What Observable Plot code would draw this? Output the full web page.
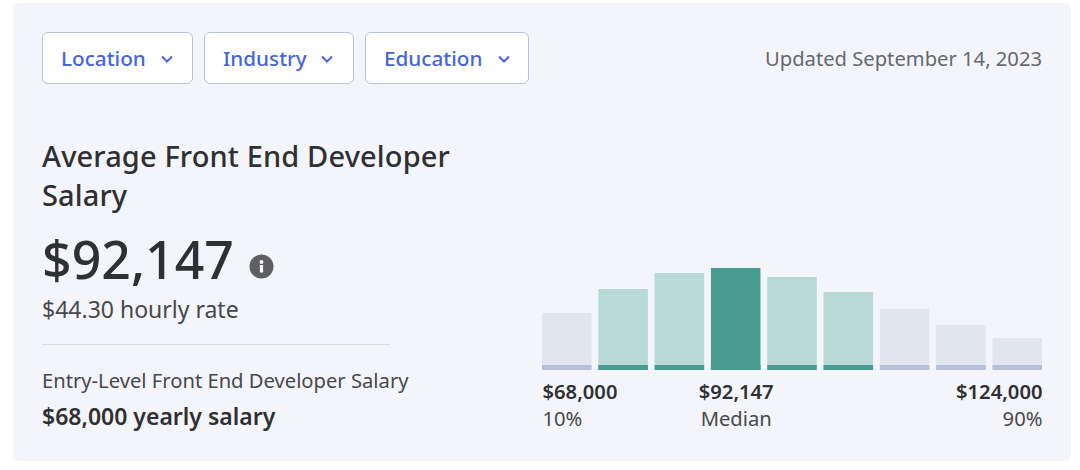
<!DOCTYPE html>
<html><head><meta charset="utf-8">
<script src="https://cdn.jsdelivr.net/npm/d3@7"></script>
<script src="https://cdn.jsdelivr.net/npm/@observablehq/plot@0.6"></script>
<style>
html,body{margin:0;padding:0;background:#fff;overflow:hidden}
body{width:1080px;height:470px;position:relative;font-family:"Noto Sans",sans-serif;color:#2f3033}
#card{position:absolute;left:13px;top:3px;width:1058px;height:458px;background:#f4f5fa;border-radius:7px}
.t{position:absolute;white-space:nowrap}
.btn{position:absolute;top:32px;height:50px;background:#fff;border:1px solid #b6c0dc;border-radius:6px;color:#4465e0;font-size:20.7px;line-height:52px;font-weight:500}
.btn span{position:absolute;left:18px;top:-1px}
.btn svg{position:absolute;top:21px}
#chart{position:absolute;left:542px;top:260px}
</style></head><body>
<div id="card"></div>
<div class="btn" style="left:42px;width:149px"><span>Location</span><svg width="14" height="10" style="left:117px"><path d="M2 2.5 L7 7.5 L12 2.5" fill="none" stroke="#4465e0" stroke-width="2"/></svg></div>
<div class="btn" style="left:204px;width:148px"><span>Industry</span><svg width="14" height="10" style="left:115px"><path d="M2 2.5 L7 7.5 L12 2.5" fill="none" stroke="#4465e0" stroke-width="2"/></svg></div>
<div class="btn" style="left:365px;width:162px"><span>Education</span><svg width="14" height="10" style="left:131px"><path d="M2 2.5 L7 7.5 L12 2.5" fill="none" stroke="#4465e0" stroke-width="2"/></svg></div>
<div class="t" style="right:38px;top:44px;font-size:20.2px;color:#66686d">Updated September 14, 2023</div>
<div class="t" style="left:42px;top:136px;font-size:29px;line-height:39px;font-weight:500;letter-spacing:.13px">Average Front End Developer<br>Salary</div>
<div class="t" style="left:42px;top:224px;font-size:51.8px;line-height:70px;font-weight:550">$92,147</div>
<svg class="t" style="left:249px;top:254px" width="25" height="25"><circle cx="12.5" cy="12.5" r="12" fill="#5e5f63"/><rect x="10.9" y="11" width="3.2" height="7.5" rx=".6" fill="#fff"/><circle cx="12.5" cy="8" r="1.9" fill="#fff"/></svg>
<div class="t" style="left:42px;top:293px;font-size:23px;color:#47484c">$44.30 hourly rate</div>
<div class="t" style="left:42px;top:344px;width:348px;height:1px;background:#d3dde2"></div>
<div class="t" style="left:42px;top:366px;font-size:20.2px;color:#47484c">Entry-Level Front End Developer Salary</div>
<div class="t" style="left:42px;top:400px;font-size:23px;font-weight:600">$68,000 yearly salary</div>
<div id="chart"></div>
<script>
const bins = ["b1","b2","b3","b4","b5","b6","b7","b8","b9"];
const heights = [57,81,97,102,93,78,61,45,32];
const tones = ["outer","mid","mid","median","mid","mid","outer","outer","outer"];
const stripValue = 5;
const lowLabel = ["$68,000","10%"];
const medianLabel = ["$92,147","Median"];
const highLabel = ["$124,000","90%"];
const rows = bins.map((b,i)=>({b,h:heights[i],tone:tones[i]}));
const W = 500, bw = 49.5;
const fill = d3.scaleOrdinal(["outer","mid","median"],["#e1e5ee","#b9d9d6","#499a8f"]);
const strip = d3.scaleOrdinal(["outer","mid","median"],["#b8bfd9","#499a8f","#499a8f"]);
const base = {fontFamily:"Noto Sans",fill:"#2f3033",lineAnchor:"middle"};
const labels = (txt,b,anchor,dx)=>[
  Plot.text([txt[0]],{x:()=>b,y:()=>0,text:d=>d,textAnchor:anchor,dx,dy:22,fontSize:20.2,fontWeight:600,...base}),
  Plot.text([txt[1]],{x:()=>b,y:()=>0,text:d=>d,textAnchor:anchor,dx,dy:49,fontSize:20.2,...base,fill:"#47484c"})
];
const plot = Plot.plot({
  width:W,height:175,marginLeft:0,marginRight:0,marginTop:0,marginBottom:65,
  x:{domain:bins,range:[0,W],paddingInner:0.12,paddingOuter:0,axis:null,round:false},
  y:{domain:[0,110],axis:null},
  style:{background:"transparent",overflow:"visible"},
  marks:[
    Plot.barY(rows,{x:"b",y:"h",fill:d=>fill(d.tone)}),
    Plot.barY(rows,{x:"b",y:()=>stripValue,fill:d=>strip(d.tone)}),
    ...labels(lowLabel,"b1","start",-bw/2),
    ...labels(medianLabel,"b4","middle",0),
    ...labels(highLabel,"b9","end",bw/2)
  ]
});
document.getElementById("chart").append(plot);
</script>
</body></html>
